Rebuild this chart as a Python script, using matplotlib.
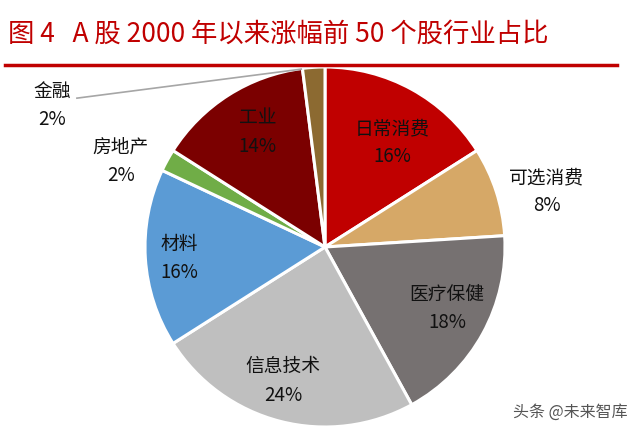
#!/usr/bin/env python3
# -*- coding: utf-8 -*-
"""A股2000年以来涨幅前50个股行业占比 饼图"""

import numpy as np
import matplotlib
matplotlib.use('Agg')
import matplotlib.pyplot as plt

plt.rcParams['font.family'] = ['Noto Sans CJK SC', 'DejaVu Sans']

# 数据
industries = ['日常消费', '可选消费', '医疗保健', '信息技术', '材料', '房地产', '工业', '金融']
shares = [16, 8, 18, 24, 16, 2, 14, 2]
colors = ['#C00000', '#D6A867', '#767171', '#BFBFBF', '#5B9BD5', '#70AD47', '#7B0000', '#8C6A31']

# 标签位置（半径系数, 角度微调）
label_r = [0.69, 1.27, 0.76, 0.78, 0.81, 1.23, 0.74, 1.71]
label_dtheta = [-4, -4, 2, -3, 1, 6, -2, 59]

W, H = 640, 436
cx, cy, R = 325, 247, 180

fig = plt.figure(figsize=(W / 100, H / 100), dpi=100)
ax = fig.add_axes([0, 0, 1, 1])

wedges, _ = ax.pie(shares, colors=colors, startangle=90, counterclock=False,
                   radius=1, center=(0, 0), frame=True,
                   wedgeprops=dict(edgecolor='white', linewidth=2.2))
ax.set_xlim(-cx / R, (W - cx) / R)
ax.set_ylim((cy - H) / R, cy / R)
ax.set_aspect('auto')
ax.axis('off')

for i, w in enumerate(wedges):
    mid = np.deg2rad((w.theta1 + w.theta2) / 2)
    ang = mid + np.deg2rad(label_dtheta[i])
    x, y = label_r[i] * np.cos(ang), label_r[i] * np.sin(ang)
    ax.text(x, y, f'{industries[i]}\n{shares[i]}%', ha='center', va='center',
            fontsize=13.5, color='#111111', linespacing=1.45)
    if label_r[i] > 1.5:
        # 引导线
        ex, ey = np.cos(mid) * 0.99, np.sin(mid) * 0.99
        ax.plot([x + 0.14, ex - 0.07], [y + 0.04, ey], color='#A6A6A6', linewidth=1.2)

# 标题与红线
fig.text(8 / W, 1 - 34 / H, '图 4   A 股 2000 年以来涨幅前 50 个股行业占比',
         fontsize=19, color='#C00000', ha='left', va='center')
fig.add_artist(plt.Line2D([5 / W, 617 / W], [1 - 65 / H, 1 - 65 / H],
                          color='#C00000', linewidth=2.5))

# 水印
fig.text(570 / W, 1 - 412 / H, '头条 @未来智库', fontsize=11.5, color='#555555',
         ha='center', va='center')

fig.savefig('out.png', dpi=100)
